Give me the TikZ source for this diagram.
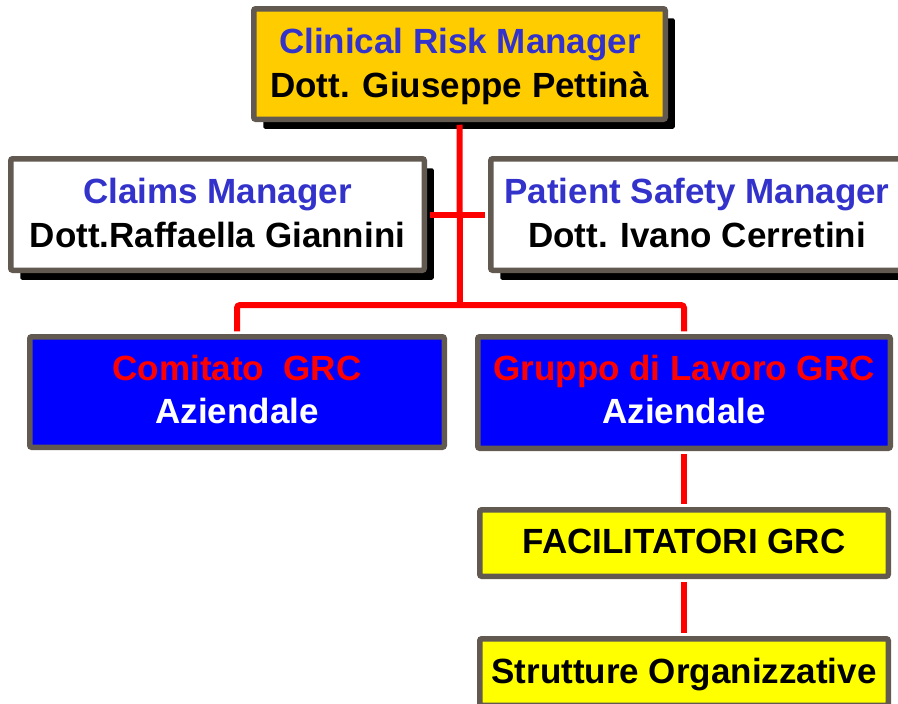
\documentclass[tikz,border=0pt]{standalone}
\usepackage{fontspec}
\setmainfont{Liberation Sans}
\usetikzlibrary{shadows}
\definecolor{frame}{RGB}{98,90,80}
\definecolor{gold}{RGB}{255,204,0}
\definecolor{titleblue}{RGB}{51,51,204}
\definecolor{linkred}{RGB}{255,0,0}
\definecolor{deepblue}{RGB}{0,0,255}
\definecolor{lemon}{RGB}{255,255,0}
\begin{document}
\begin{tikzpicture}[x=1pt,y=-1pt,
  box/.style={rectangle, draw=frame, line width=5.5pt, rounded corners=2pt, inner sep=0pt},
  shadowed/.style={drop shadow={shadow xshift=9.5pt, shadow yshift=-9.5pt, fill=black, opacity=1}},
  slim/.style={minimum width=408.5pt, minimum height=66.5pt},
  txt/.style={anchor=base, inner sep=0pt, font=\fontsize{35}{42}\selectfont\bfseries},
  link/.style={draw=linkred, line width=6pt, shorten <=2.75pt, shorten >=2.75pt}]
\clip (0,0) rectangle (898,704);
\fill[white] (0,0) rectangle (898,704);

% Clinical Risk Manager
\node[box, shadowed, fill=gold, minimum width=411.5pt, minimum height=110.5pt] (crm) at (459.5,64) {};
\node[txt, text=titleblue] (crm1) at (460,53) {Clinical Risk Manager};
\node[txt] (crm2) at (459.5,97) {Dott. Giuseppe Pettinà};

% Claims Manager
\node[box, shadowed, fill=white, minimum width=413.5pt, minimum height=111.5pt] (cm) at (217.5,214.5) {};
\node[txt, text=titleblue] (cm1) at (217.5,203) {Claims Manager};
\node[txt] (cm2) at (217.5,247) {Dott.Raffaella Giannini};

% Patient Safety Manager
\node[box, shadowed, fill=white, minimum width=412.5pt, minimum height=111.5pt] (psm) at (697,214.5) {};
\node[txt, text=titleblue] (psm1) at (697,203) {Patient Safety Manager};
\node[txt] (psm2) at (697,247) {Dott. Ivano Cerretini};

% Comitato GRC
\node[box, fill=deepblue, minimum width=414.5pt, minimum height=110.5pt] (com) at (237,392) {};
\node[txt, text=linkred] (com1) at (237,380) {Comitato~~GRC};
\node[txt, text=white] (com2) at (237,423) {Aziendale};

% Gruppo di Lavoro GRC
\node[box, fill=deepblue, minimum width=412.5pt, minimum height=111.5pt] (grp) at (684,392.5) {};
\node[txt, text=linkred] (grp1) at (684,380) {Gruppo di Lavoro GRC};
\node[txt, text=white] (grp2) at (684,423) {Aziendale};

% Facilitatori
\node[box, fill=lemon, slim] (fac) at (684,543) {};
\node[txt] (fac1) at (684,553) {FACILITATORI GRC};

% Strutture Organizzative
\node[box, fill=lemon, slim] (str) at (684,672) {};
\node[txt] (str1) at (684,683) {Strutture Organizzative};

% connectors
\coordinate (bus) at (460,305);
\draw[link, shorten >=0pt] (crm.south) -- (bus);
\draw[link] (cm.east) -- (psm.west);
\draw[link, rounded corners=3pt] (com.north) |- (bus) -| (grp.north);
\draw[link] (grp.south) -- (fac.north);
\draw[link] (fac.south) -- (str.north);
\end{tikzpicture}
\end{document}
